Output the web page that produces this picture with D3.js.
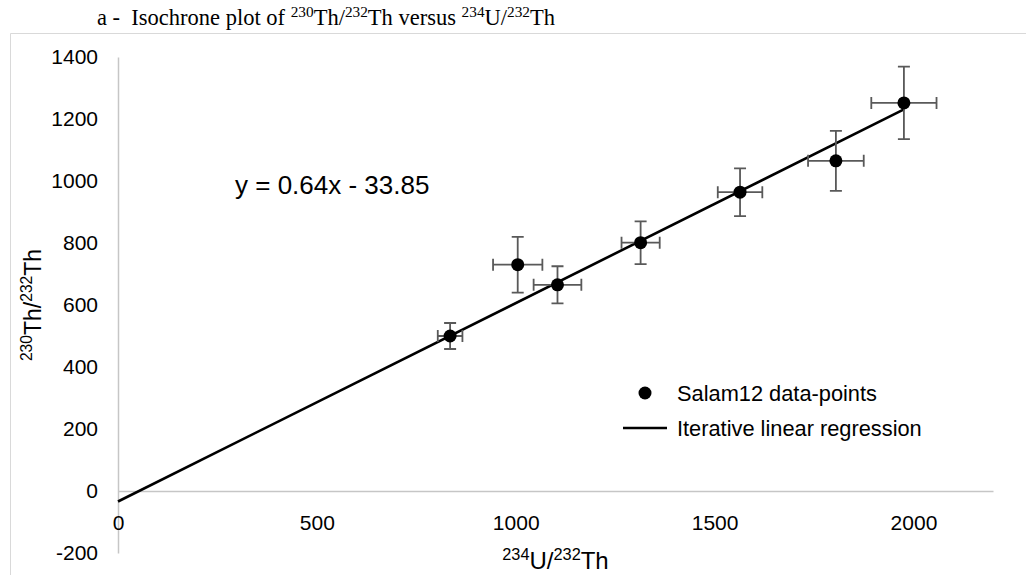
<!DOCTYPE html>
<html>
<head>
<meta charset="utf-8">
<script src="https://cdn.jsdelivr.net/npm/d3@7/dist/d3.min.js"></script>
<style>
  html, body { margin: 0; padding: 0; background: #fff; }
  svg { display: block; }
  .sans { font-family: "Liberation Sans", Arial, sans-serif; fill: #000; }
  .serif { font-family: "Liberation Serif", "Times New Roman", serif; fill: #000; }
</style>
</head>
<body>
<svg id="chart" width="1026" height="575"></svg>
<script>
// Salam12 isochrone data: 234U/232Th (x) and 230Th/232Th (y) with 1-sigma errors
const sampleU = [835, 1005, 1105, 1314, 1564, 1805, 1976];
const sampleTh = [500, 730, 665, 801, 964, 1065, 1252];
const errU = [31, 62, 60, 48, 56, 70, 82];
const errTh = [42, 90, 60, 69, 77, 97, 117];

// Iterative linear regression fit
const fitSlope = 0.64;
const fitIntercept = -33.85;
const fitRangeU = [0, 1976];

// Axis ticks
const xTicks = [0, 500, 1000, 1500, 2000];
const yTicks = [-200, 0, 200, 400, 600, 800, 1000, 1200, 1400];

const svg = d3.select("#chart");
svg.append("rect").attr("width", 1026).attr("height", 575).attr("fill", "#fff");

// chart frame
svg.append("path")
  .attr("d", "M10.5,575V33.5H1026")
  .attr("fill", "none").attr("stroke", "#d9d9d9").attr("stroke-width", 1);

// text with superscripted isotope numbers; parts are [text, isSup]
function addParts(t, parts) {
  let prevSup = false;
  parts.forEach(([txt, sup]) => {
    const ts = t.append("tspan").text(txt);
    if (sup) ts.attr("font-size", "0.68em").attr("dy", "-0.55em");
    else if (prevSup) ts.attr("dy", "0.374em");
    prevSup = sup;
  });
}

// title
const title = svg.append("text").attr("class", "serif")
  .attr("x", 97).attr("y", 25).attr("font-size", 22.5)
  .attr("xml:space", "preserve");
addParts(title, [["a -  Isochrone plot of ", false], ["230", true], ["Th/", false], ["232", true],
  ["Th versus ", false], ["234", true], ["U/", false], ["232", true], ["Th", false]]);

const x = d3.scaleLinear().domain([0, 2200]).range([118, 993]);
const y = d3.scaleLinear().domain([-200, 1400]).range([553, 57]);
const plain = d => String(d);

// y axis (drawn at x = 0)
const gy = svg.append("g").attr("transform", `translate(${x(0)},0)`)
  .call(d3.axisLeft(y).tickValues(yTicks).tickFormat(plain)
    .tickSize(0).tickSizeOuter(0).tickPadding(20));
// x axis (drawn at y = 0)
const gx = svg.append("g").attr("transform", `translate(0,${y(0)})`)
  .call(d3.axisBottom(x).tickValues(xTicks).tickFormat(plain)
    .tickSize(0).tickSizeOuter(0).tickPadding(24));
[gx, gy].forEach(g => {
  g.attr("font-family", null).attr("font-size", null);
  g.select(".domain").attr("stroke", "#c6c6c6").attr("stroke-width", 1.5);
  g.selectAll("text").attr("class", "sans").attr("font-size", 21).style("fill", "#000");
});

// axis titles
const yTitle = svg.append("text").attr("class", "sans")
  .attr("transform", `translate(41,${(y(-200) + y(1400)) / 2}) rotate(-90)`)
  .attr("text-anchor", "middle").attr("font-size", 23);
addParts(yTitle, [["230", true], ["Th/", false], ["232", true], ["Th", false]]);

const xTitle = svg.append("text").attr("class", "sans")
  .attr("x", (x(0) + x(2200)) / 2).attr("y", 569)
  .attr("text-anchor", "middle").attr("font-size", 24);
addParts(xTitle, [["234", true], ["U/", false], ["232", true], ["Th", false]]);

// regression line
const line = d3.line().x(d => x(d)).y(d => y(fitSlope * d + fitIntercept));
svg.append("path").datum(fitRangeU).attr("d", line)
  .attr("fill", "none").attr("stroke", "#000").attr("stroke-width", 2.6);

// error bars
const pts = sampleU.map((u, i) => ({ u, th: sampleTh[i], eu: errU[i], eth: errTh[i] }));
const cap = 6;
const eb = svg.append("g").attr("stroke", "#595959").attr("stroke-width", 1.8).attr("fill", "none");
pts.forEach(p => {
  const cx = x(p.u), cy = y(p.th);
  const y1 = y(p.th + p.eth), y2 = y(p.th - p.eth);
  const x1 = x(p.u - p.eu), x2 = x(p.u + p.eu);
  eb.append("path").attr("d",
    `M${cx},${y1}V${y2}M${cx - cap},${y1}H${cx + cap}M${cx - cap},${y2}H${cx + cap}` +
    `M${x1},${cy}H${x2}M${x1},${cy - cap}V${cy + cap}M${x2},${cy - cap}V${cy + cap}`);
});

// data points
svg.append("g").selectAll("circle").data(pts).join("circle")
  .attr("cx", d => x(d.u)).attr("cy", d => y(d.th)).attr("r", 6.5).attr("fill", "#000");

// equation label
svg.append("text").attr("class", "sans").attr("x", 235).attr("y", 194)
  .attr("font-size", 26).text(`y = ${fitSlope}x - ${Math.abs(fitIntercept)}`);

// legend
const lg = svg.append("g");
lg.append("circle").attr("cx", 645).attr("cy", 393).attr("r", 6.5).attr("fill", "#000");
lg.append("text").attr("class", "sans").attr("x", 677).attr("y", 400.5)
  .attr("font-size", 21.8).text("Salam12 data-points");
lg.append("line").attr("x1", 623).attr("x2", 667).attr("y1", 428).attr("y2", 428)
  .attr("stroke", "#000").attr("stroke-width", 2.6);
lg.append("text").attr("class", "sans").attr("x", 677).attr("y", 435.5)
  .attr("font-size", 21.8).text("Iterative linear regression");
</script>
</body>
</html>
